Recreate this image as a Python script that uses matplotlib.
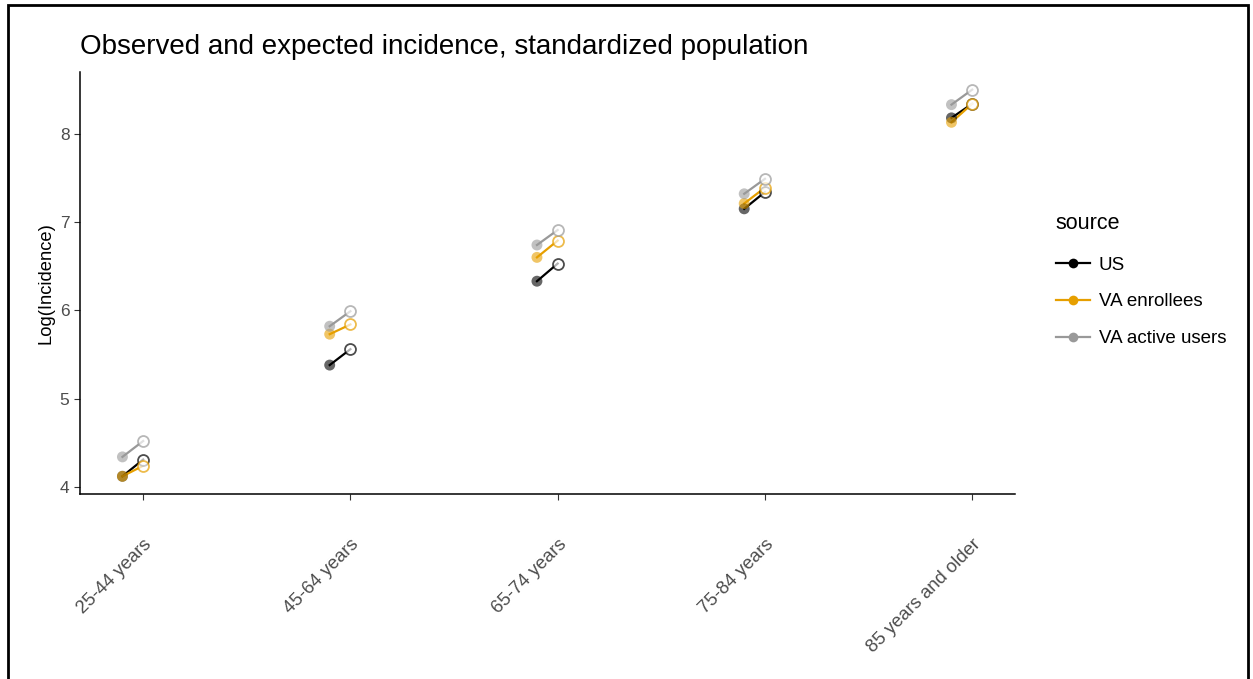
import numpy as np
import matplotlib.pyplot as plt
from matplotlib.lines import Line2D
from matplotlib.patches import Rectangle

plt.rcParams['font.family'] = ['Liberation Sans', 'DejaVu Sans']

age_groups = ['25-44 years', '45-64 years', '65-74 years', '75-84 years', '85 years and older']
sources = ['US', 'VA enrollees', 'VA active users']
colors = ['#000000', '#E69F00', '#999999']

# observed (filled) and expected (open) log incidence per source
observed = {
    'US':              [4.12, 5.38, 6.33, 7.15, 8.18],
    'VA enrollees':    [4.12, 5.73, 6.60, 7.21, 8.13],
    'VA active users': [4.34, 5.82, 6.74, 7.32, 8.33],
}
expected = {
    'US':              [4.31, 5.56, 6.53, 7.34, 8.34],
    'VA enrollees':    [4.24, 5.84, 6.79, 7.39, 8.34],
    'VA active users': [4.52, 5.99, 6.91, 7.49, 8.50],
}

fig = plt.figure(figsize=(12.53, 6.79), dpi=100)
ax = fig.add_axes([0.0638, 0.2725, 0.746, 0.6215])

x = np.arange(1, len(age_groups) + 1)
for src, col in zip(sources, colors):
    obs = np.array(observed[src])
    exp = np.array(expected[src])
    for i in range(len(x)):
        ax.plot([x[i] - 0.1, x[i]], [obs[i], exp[i]], color=col, lw=1.6, zorder=2)
    ax.scatter(x - 0.1, obs, s=62, color=col, alpha=0.6, edgecolor='none', zorder=3)
    ax.scatter(x, exp, s=62, facecolor='white', edgecolor=col, alpha=0.7, lw=1.3, zorder=3)

ax.set_xlim(0.695, 5.205)
ax.set_ylim(3.92, 8.70)
ax.set_xticks(x)
ax.set_xticklabels(age_groups, rotation=45, ha='right', rotation_mode='anchor',
                   fontsize=13.3, color='#4D4D4D')
ax.set_yticks([4, 5, 6, 7, 8])
ax.tick_params(axis='y', labelsize=12.5, labelcolor='#4D4D4D')
ax.tick_params(axis='x', pad=26)
ax.tick_params(length=4, width=0.8, color='#333333')
for side in ['top', 'right']:
    ax.spines[side].set_visible(False)
for side in ['left', 'bottom']:
    ax.spines[side].set_linewidth(1.1)
ax.set_ylabel('Log(Incidence)', fontsize=13.2)
ax.set_title('Observed and expected incidence, standardized population',
             fontsize=20, loc='left', pad=13)

handles = [Line2D([0], [0], color=c, lw=1.6, marker='o', markersize=7,
                  markerfacecolor=c, markeredgecolor='none') for c in colors]
leg = fig.legend(handles, sources, title='source', loc='upper left',
                 bbox_to_anchor=(0.829, 0.707), frameon=False, fontsize=13.5,
                 title_fontsize=15.5, handlelength=1.85, handletextpad=0.45,
                 labelspacing=1.05, alignment='left')
leg.get_title().set_position((0, 3))

# outer frame
fig.patches.append(Rectangle((0.006, -0.01), 0.99, 1.003, transform=fig.transFigure,
                             fill=False, edgecolor='black', lw=2))

fig.savefig('out.png', dpi=100)
